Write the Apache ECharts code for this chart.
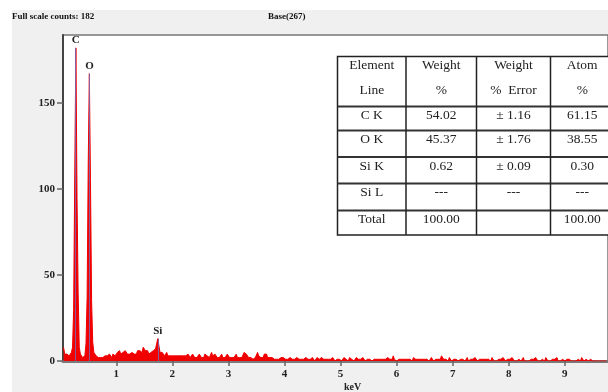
<!DOCTYPE html>
<html>
<head>
<meta charset="utf-8">
<script src="https://cdn.jsdelivr.net/npm/echarts@6/dist/echarts.min.js"></script>
<style>
html,body{margin:0;padding:0;background:#fff;}
#bg{position:absolute;left:12px;top:10px;width:596px;height:382px;background:#f0f0f0;}
#chart{position:absolute;left:0;top:0;width:608px;height:392px;}
</style>
</head>
<body>
<div id="bg"></div>
<div id="chart"></div>
<script>
// ---- Data ----
const headerText = 'Full scale counts: 182';
const baseText = 'Base(267)';
const xTickValues = [1, 2, 3, 4, 5, 6, 7, 8, 9];
const yTickValues = [0, 50, 100, 150];
const channelStartKeV = 0.06;
const channelWidthKeV = 0.02;
// counts per channel (0.02 keV wide)
const spectrumCounts = [
  8,4,3,4,3,3,4,5,8,               // 0.06-0.22
  30,110,182,95,40,8,              // 0.24-0.34 (C)
  4,3,2,3,3,                       // 0.36-0.44
  10,37,115,167,105,35,11,5,       // 0.46-0.60 (O)
  4,3,2,2,3,2,1,2,2,3,             // 0.62-0.80
  2,3,2,4,3,2,4,5,3,4,             // 0.82-1.00
  5,4,6,4,3,5,4,6,5,4,             // 1.02-1.20
  5,4,3,5,6,4,5,4,6,5,             // 1.22-1.40
  6,7,5,8,7,6,5,6,4,5,             // 1.42-1.60
  5,4,6,5,7,10,13,9,5,4,           // 1.62-1.80 (Si)
  5,4,3,4,5,3,4,3,4,3,             // 1.82-2.00
  4,3,2,3,4,3,2,3,2,3,             // 2.02-2.20
  4,3,2,4,3,2,3,4,3,2,             // 2.22-2.40
  3,2,3,4,3,2,3,2,4,3,             // 2.42-2.60
  3,4,2,3,5,3,2,4,3,2,             // 2.62-2.80
  3,2,3,4,2,3,2,3,4,3,             // 2.82-3.00
  2,3,2,3,2,3,4,2,3,2,             // 3.02-3.20
  3,2,3,5,6,4,3,2,3,2,             // 3.22-3.40
  2,1,2,2,3,5,3,2,2,1,             // 3.42-3.60
  2,4,3,4,2,1,2,1,2,1,             // 3.62-3.80
  1,2,1,2,1,1,2,1,2,1,             // 3.82-4.00
  1,2,1,1,2,2,1,2,1,1,             // 4.02-4.20
  2,1,1,2,1,2,1,1,2,1,             // 4.22-4.40
  1,2,1,1,2,1,0,1,2,1,1,1,2,1,1,0,1,2,1,1, // 4.42-4.80
  1,1,2,1,0,1,1,2,1,1,0,1,2,1,1,1,0,2,1,1, // 4.82-5.20
  1,0,1,2,1,1,0,1,1,2,1,0,1,1,2,1,1,0,1,1, // 5.22-5.60
  2,1,0,1,1,1,2,1,0,1,1,2,1,1,0,1,3,1,1,0, // 5.62-6.00
  1,1,2,1,0,1,1,1,2,1,0,1,1,0,2,1,1,0,1,1, // 6.02-6.40
  1,0,1,2,1,0,1,1,0,1,2,1,0,1,1,0,1,2,1,3, // 6.42-6.80
  2,1,0,1,1,0,2,1,0,1,1,0,1,2,0,1,1,0,1,1, // 6.82-7.20
  0,1,2,0,1,1,0,1,0,2,1,0,1,1,0,1,0,1,2,1, // 7.22-7.60
  0,1,1,0,2,1,0,1,0,1,1,0,1,0,2,1,0,1,1,0, // 7.62-8.00
  1,0,2,1,0,1,0,1,1,0,0,1,2,0,1,0,1,0,1,1, // 8.02-8.40
  0,1,0,2,1,0,1,0,0,1,1,0,2,1,0,1,0,0,1,0, // 8.42-8.80
  1,0,2,0,1,0,0,1,1,0,0,1,0,1,0,0,1,0,1,0, // 8.82-9.20
  0,1,0,0,2,1,0,0,1,0,0,0,1,0,0,0,0,1,0,0, // 9.22-9.60
  0,0,0,0,0,0,0                            // 9.62-9.74
];
const peakLabels = ['C', 'O', 'Si'];
const peakEnergies = [0.277, 0.525, 1.74];
const peakHeights = [182, 167, 13];

const tableHeader1 = ['Element', 'Weight', 'Weight', 'Atom'];
const tableHeader2 = ['Line', '%', '%  Error', '%'];
const tableRows = [
  ['C K', '54.02', '± 1.16', '61.15'],
  ['O K', '45.37', '± 1.76', '38.55'],
  ['Si K', '0.62', '± 0.09', '0.30'],
  ['Si L', '---', '---', '---'],
  ['Total', '100.00', '', '100.00']
];

// ---- Build ----
const spectrum = spectrumCounts.map((c, i) => [+(channelStartKeV + i * channelWidthKeV).toFixed(2), c]);

const serif = '"Liberation Serif", "Times New Roman", serif';
const colEdges = [337.5, 406, 476.5, 550.5, 614];
const rowEdges = [56.5, 106.5, 130.5, 157, 183.5, 210.5, 235];

const graphics = [];
graphics.push({type:'text', left:12, top:12, style:{text:headerText, font:'bold 9px ' + serif, fill:'#111'}});
graphics.push({type:'text', left:268, top:12, style:{text:baseText, font:'bold 9px ' + serif, fill:'#111'}});
graphics.push({type:'text', left:344, top:382, style:{text:'keV', font:'bold 10px ' + serif, fill:'#222'}});

// table
graphics.push({type:'rect', z:10, shape:{x:colEdges[0], y:rowEdges[0], width:colEdges[4]-colEdges[0], height:rowEdges[6]-rowEdges[0]}, style:{fill:'#fff', stroke:'#222', lineWidth:1.5}});
for (let r = 1; r < rowEdges.length - 1; r++) {
  graphics.push({type:'line', z:11, shape:{x1:colEdges[0], y1:rowEdges[r], x2:colEdges[4], y2:rowEdges[r]}, style:{stroke:'#333', lineWidth:2}});
}
for (let c = 1; c < colEdges.length - 1; c++) {
  graphics.push({type:'line', z:11, shape:{x1:colEdges[c], y1:rowEdges[0], x2:colEdges[c], y2:rowEdges[6]}, style:{stroke:'#222', lineWidth:1.5}});
}
const cellFont = '13.5px ' + serif;
for (let c = 0; c < 4; c++) {
  const cx = (colEdges[c] + colEdges[c+1]) / 2;
  graphics.push({type:'text', z:12, x:cx, y:rowEdges[0] + 9, style:{text:tableHeader1[c], font:cellFont, fill:'#222', textAlign:'center', textVerticalAlign:'middle'}});
  graphics.push({type:'text', z:12, x:cx, y:rowEdges[0] + 34, style:{text:tableHeader2[c], font:cellFont, fill:'#222', textAlign:'center', textVerticalAlign:'middle'}});
  for (let r = 0; r < tableRows.length; r++) {
    graphics.push({type:'text', z:12, x:cx, y:rowEdges[r+1] + 9, style:{text:tableRows[r][c], font:cellFont, fill:'#222', textAlign:'center', textVerticalAlign:'middle'}});
  }
}

const chart = echarts.init(document.getElementById('chart'), null, {renderer:'canvas'});
chart.setOption({
  backgroundColor: 'transparent',
  animation: false,
  grid: {left:63, top:35, right:-3, bottom:31, show:true, backgroundColor:'#fff', borderColor:'#777', borderWidth:1.5},
  xAxis: {
    type:'value', min:0.05, max:9.77,
    splitLine:{show:false},
    axisLine:{show:true, onZero:false, lineStyle:{color:'#7a7a7a', width:3}},
    axisTick:{show:true, customValues:xTickValues, length:5, lineStyle:{color:'#666', width:1.5}},
    axisLabel:{customValues:xTickValues, margin:8, color:'#222', fontWeight:'bold', fontSize:11, fontFamily:serif}
  },
  yAxis: {
    type:'value', min:0, max:189.5,
    splitLine:{show:false},
    axisLine:{show:true, lineStyle:{color:'#444', width:2}},
    axisTick:{show:true, customValues:yTickValues, length:6, lineStyle:{color:'#666', width:1.5}},
    axisLabel:{customValues:yTickValues, margin:8, color:'#222', fontWeight:'bold', fontSize:11, fontFamily:serif}
  },
  series: [{
    type:'line', data:spectrum, showSymbol:false, silent:true,
    lineStyle:{color:'#f00000', width:1},
    areaStyle:{color:'#f00000', opacity:1},
    z:2,
    markLine:{
      silent:true, symbol:'none', animation:false,
      lineStyle:{color:'#8a5a9a', width:1, type:'solid'},
      label:{show:true, position:'end', distance:2, formatter:p => p.name, color:'#222', fontWeight:'bold', fontSize:11, fontFamily:serif},
      data: peakLabels.map((name, i) => [
        {coord:[peakEnergies[i], 0], name:name},
        {coord:[peakEnergies[i], peakHeights[i]]}
      ])
    }
  }],
  graphic: graphics
});
</script>
</body>
</html>
